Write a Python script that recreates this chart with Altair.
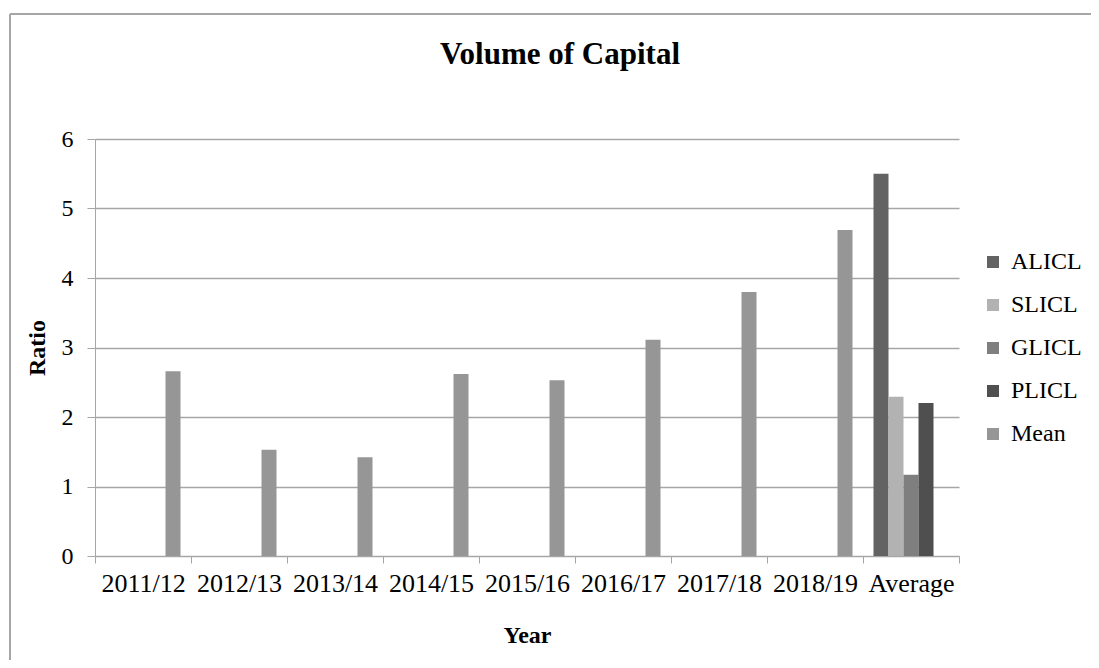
import altair as alt
import pandas as pd

categories = ["2011/12", "2012/13", "2013/14", "2014/15", "2015/16",
              "2016/17", "2017/18", "2018/19", "Average"]
series = ["ALICL", "SLICL", "GLICL", "PLICL", "Mean"]
colors = ["#636363", "#b2b2b2", "#7f7f7f", "#4f4f4f", "#969696"]

mean_values = [2.66, 1.53, 1.42, 2.62, 2.53, 3.11, 3.80, 4.69]
average_values = {"ALICL": 5.50, "SLICL": 2.29, "GLICL": 1.17, "PLICL": 2.20}
y_ticks = [0, 1, 2, 3, 4, 5, 6]
chart_title = "Volume of Capital"

rows = []
for c, v in zip(categories[:-1], mean_values):
    rows.append({"Year": c, "Series": "Mean", "Ratio": v})
for s, v in average_values.items():
    rows.append({"Year": "Average", "Series": s, "Ratio": v})
df = pd.DataFrame(rows)

FONT = "Liberation Serif"

bars = alt.Chart(df).mark_bar().encode(
    x=alt.X("Year:N", sort=categories,
            scale=alt.Scale(domain=categories, paddingInner=0, paddingOuter=0),
            axis=alt.Axis(title="Year", labelAngle=0, tickBand="extent",
                          tickSize=7, tickColor="#a6a6a6", domainColor="#a6a6a6",
                          labelFont=FONT, labelFontSize=26, labelColor="black",
                          labelPadding=7, labelOverlap=False,
                          titleFont=FONT, titleFontSize=24,
                          titleFontWeight="bold", titleColor="black", titlePadding=27)),
    xOffset=alt.XOffset("Series:N", sort=series,
                        scale=alt.Scale(domain=series, paddingInner=0, paddingOuter=0.7)),
    y=alt.Y("Ratio:Q", scale=alt.Scale(domain=[0, 6], nice=False),
            axis=alt.Axis(title="Ratio", values=y_ticks, labelOverlap=False,
                          tickSize=8, tickColor="#a6a6a6", domainColor="#a6a6a6",
                          gridColor="#a6a6a6", gridWidth=1.5,
                          labelFont=FONT, labelFontSize=24, labelColor="black",
                          labelPadding=14, titleFont=FONT, titleFontSize=24,
                          titleFontWeight="bold", titleColor="black", titlePadding=12)),
    color=alt.Color("Series:N", sort=series,
                    scale=alt.Scale(domain=series, range=colors),
                    legend=alt.Legend(title=None, orient="none", legendX=886, legendY=111,
                                      symbolType="square", symbolSize=144,
                                      symbolStrokeWidth=0, labelFont=FONT,
                                      labelFontSize=24, labelColor="black",
                                      labelOffset=6, rowPadding=19, padding=0)),
)

one = pd.DataFrame({"t": [chart_title]})
frame_top = alt.Chart(one).mark_rule(color="#a6a6a6", strokeWidth=2).encode(
    x=alt.value(-85), x2=alt.value(1100), y=alt.value(-125))
frame_left = alt.Chart(one).mark_rule(color="#a6a6a6", strokeWidth=2).encode(
    x=alt.value(-85), y=alt.value(-125), y2=alt.value(700))
title = alt.Chart(one).mark_text(font=FONT, fontSize=31, fontWeight="bold",
                                 color="black", align="center",
                                 baseline="alphabetic").encode(
    text="t:N", x=alt.value(465), y=alt.value(-75))

chart = alt.layer(frame_top, frame_left, title, bars).properties(
    width=864, height=417,
    autosize=alt.AutoSizeParams(type="none"),
    padding={"left": 87, "top": 131, "right": 132, "bottom": 104},
).configure(background="white", view=alt.ViewConfig(stroke=None))

chart.save("out.html", embed_options={"renderer": "svg", "actions": False})
